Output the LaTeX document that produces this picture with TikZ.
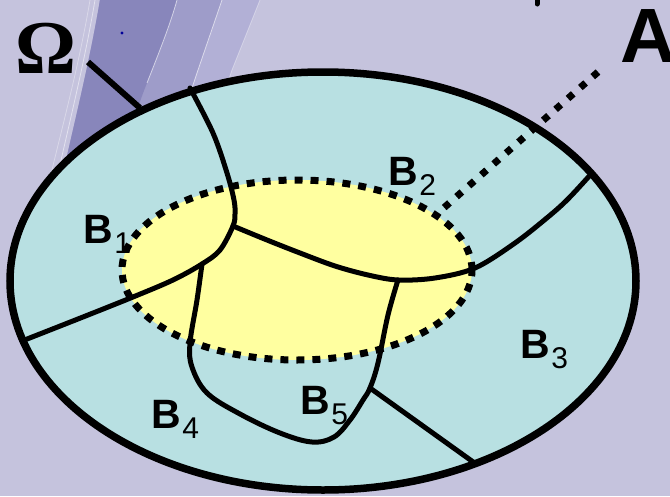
\documentclass[tikz,border=0pt]{standalone}
\usepackage{fontspec}
\setmainfont{Liberation Sans}
\newfontfamily\omfont{Liberation Serif}
\definecolor{bgc}{RGB}{197,195,221}
\definecolor{banddark}{RGB}{136,134,187}
\definecolor{bandmid}{RGB}{158,156,201}
\definecolor{bandlight}{RGB}{178,176,214}
\definecolor{cyanc}{RGB}{184,224,226}
\definecolor{yellowc}{RGB}{255,255,160}
\tikzset{
  region/.style={line width=5pt, line cap=round, line join=round},
  outer/.style={line width=7.5pt},
  dotline/.style={line width=7pt, dash pattern=on 8pt off 8pt},
  blabel/.style={anchor=base west, inner sep=0pt, font=\fontsize{41}{41}\selectfont\bfseries},
}
\newcommand{\subnum}[1]{\hspace{1.5pt}\raisebox{-10pt}{\fontsize{30}{30}\selectfont\mdseries #1}}
\begin{document}
\begin{tikzpicture}[x=1pt,y=-1pt]
\useasboundingbox (0,0) rectangle (670,496);
\fill[bgc] (0,0) rectangle (670,496);
% decorative stripes
\fill[bandlight] (100,0) .. controls (90,60) and (75,120) .. (62,178) -- (70,230) -- (250,230) -- (212,130) -- (232,70) -- (260,0) -- cycle;
\fill[bandmid] (100,0) .. controls (90,60) and (75,120) .. (62,178) -- (70,230) -- (200,230) -- (178,130) -- (198,70) -- (222,0) -- cycle;
\fill[banddark] (100,0) .. controls (90,60) and (75,120) .. (62,178) -- (70,230) -- (120,230) -- (120,170) .. controls (130,130) and (140,100) .. (147,83) .. controls (160,50) and (170,25) .. (177,0) -- cycle;
\draw[white, opacity=0.5, line width=0.8pt] (95,0) .. controls (85,60) and (70,120) .. (57,178);
\draw[white, opacity=0.35, line width=0.8pt] (90,0) .. controls (80,60) and (64,120) .. (50,178);
\draw[white, opacity=0.6, line width=0.8pt] (177,0) .. controls (170,25) and (160,50) .. (147,83);
\draw[white, opacity=0.6, line width=0.8pt] (222,0) -- (198,70) -- (178,130);
\draw[white, opacity=0.4, line width=0.8pt] (260,0) -- (232,70) -- (212,130);
\fill[blue!60!black] (122,33) circle (1.6pt);
% top tick
\draw[line width=5pt, line cap=round] (537,-5) -- (537,4);
% main ellipse fill
\fill[cyanc] (323,281) ellipse [x radius=313pt, y radius=209pt];
\coordinate (yc) at (297,270);
\fill[yellowc] (yc) ellipse [x radius=175pt, y radius=90pt];
% junctions
\coordinate (J1) at (233,226);
\coordinate (J3) at (202,264);
\coordinate (J2) at (398,280);
\coordinate (J4) at (370,388);
% region boundaries
\draw[region] plot[smooth, tension=0.55] coordinates {(190,88) (213,133) (227,173) (234,200) (235,214) (J1) (220,250) (J3) (173,280) (133,297) (83,317) (22,341)};
\draw[region] plot[smooth, tension=0.55] coordinates {(J1) (267,240) (300,253) (335,266) (368,275) (J2) (435,278) (475,268) (515,243) (548,217) (568,199) (592,173)};
\draw[region] plot[smooth, tension=0.6] coordinates {(J3) (197,300) (190,343) (192,367) (207,393) (240,414) (280,433) (312,442) (334,437) (350,420) (363,400) (J4) (378,363) (388,315) (J2)};
\coordinate (E4) at (476,464);
\draw[region] (J4) -- (E4);
% yellow dotted border
\draw[dotline] (yc) ellipse [x radius=175pt, y radius=90pt];
% A pointer
\coordinate (Aend) at (598,72);
\coordinate (Astart) at (438,213);
\draw[dotline, dash pattern=on 7pt off 9.5pt, line width=7pt] (Aend) -- (Astart);
% outer border
\draw[outer] (323,281) ellipse [x radius=313pt, y radius=209pt];
% Omega
\node[anchor=base west, inner sep=0pt, font=\omfont\bfseries\fontsize{76}{76}\selectfont] (om) at (15,73) {Ω};
\coordinate (omEnd) at (140,108);
\coordinate (omStart) at (88,62);
\draw[line width=6pt] (omStart) -- (omEnd);
% A label
\node[anchor=base west, inner sep=0pt, font=\fontsize{77}{77}\selectfont\bfseries] (A) at (620,62) {A};
% B labels
\node[blabel] (b1) at (83,243) {B\subnum{1}};
\node[blabel] (b2) at (388,185) {B\subnum{2}};
\node[blabel] (b3) at (520,358) {B\subnum{3}};
\node[blabel] (b4) at (151,428) {B\subnum{4}};
\node[blabel] (b5) at (300,414) {B\subnum{5}};
\end{tikzpicture}
\end{document}
